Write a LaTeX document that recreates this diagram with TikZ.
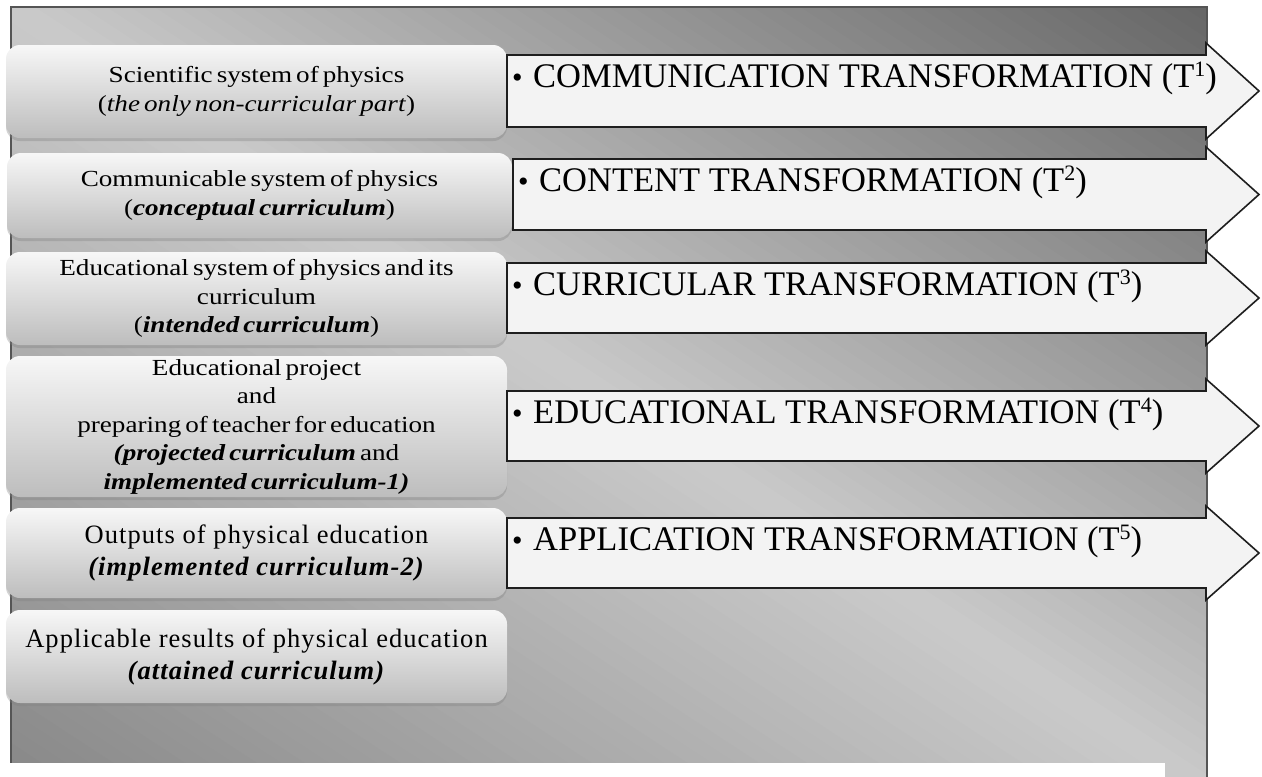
\documentclass[tikz,border=0pt]{standalone}
\usepackage{fontspec}
\setmainfont{Liberation Serif}
\newfontfamily\boxfont[FakeStretch=1.18,WordSpace=0.6]{Liberation Serif}
\newfontfamily\lowfont[LetterSpace=4]{Liberation Serif}
\usetikzlibrary{shadows}

\definecolor{panelDark}{HTML}{666666}
\definecolor{panelLight}{HTML}{CACACA}
\definecolor{panelLow}{HTML}{878787}
\definecolor{panelEdge}{HTML}{555555}
\definecolor{boxTop}{HTML}{F7F7F7}
\definecolor{boxMid}{HTML}{E4E4E4}
\definecolor{boxBot}{HTML}{BDBDBD}
\definecolor{arrowFill}{HTML}{F3F3F3}
\definecolor{arrowEdge}{HTML}{1E1E1E}

\newcommand\emphcur[1]{\textbf{\textit{#1}}}
\newcommand\supnum[1]{\raisebox{0.31em}{\fontsize{22}{22}\selectfont #1}}

\begin{document}
\begin{tikzpicture}[x=1pt,y=-1pt,
  levelbox/.style={rounded corners=14pt, top color=boxTop, middle color=boxMid,
    bottom color=boxBot, inner sep=0pt, align=center, text=black,
    drop shadow={shadow xshift=0pt, shadow yshift=-3pt, opacity=0.35}},
  smalltext/.style={font=\boxfont\fontsize{23}{28.5}\selectfont},
  largetext/.style={font=\lowfont\fontsize{26.5}{32}\selectfont},
  arrowshape/.style={draw=arrowEdge, line width=1.6pt, fill=arrowFill, line join=miter},
  arrowtext/.style={font=\fontsize{34.5}{36}\selectfont, inner sep=0pt, anchor=base west}
]
\useasboundingbox (0,0) rectangle (1262,777);
\clip (0,0) rectangle (1262,777);

% background panel: grey gradient across the diagonal, built from thin strips
\begin{scope}
  \clip (11,7) rectangle (1207,790);
  \foreach \k in {0,...,99} {
    \pgfmathsetmacro\ta{\k/100}
    \pgfmathsetmacro\tb{(\k+1.4)/100}
    \pgfmathsetmacro\tm{(\k+0.5)/100}
    \ifdim\tm pt<0.5pt
      \pgfmathsetmacro\pc{200*\tm}
      \colorlet{stripcol}{panelLight!\pc!panelDark}
    \else
      \pgfmathsetmacro\pc{200*\tm-100}
      \colorlet{stripcol}{panelLow!\pc!panelLight}
    \fi
    \fill[stripcol]
      ({11+1196*(1-\ta)-1.2*1196},{7+783*\ta-1.2*783}) --
      ({11+1196*(1-\ta)+1.2*1196},{7+783*\ta+1.2*783}) --
      ({11+1196*(1-\tb)+1.2*1196},{7+783*\tb+1.2*783}) --
      ({11+1196*(1-\tb)-1.2*1196},{7+783*\tb-1.2*783}) -- cycle;
  }
\end{scope}
\draw[panelEdge, line width=1.2pt] (11,790) -- (11,7) -- (1207,7) -- (1207,790);
\fill[white] (0,763) rectangle (1165,790);

% curriculum levels
\node[levelbox, smalltext, minimum width=501pt, minimum height=93pt] (lvl1) at (256.5,91.5)
  {Scientific system of physics\\(\textit{the only non-curricular part})};
\node[levelbox, smalltext, minimum width=505pt, minimum height=85pt] (lvl2) at (259.5,195.5)
  {Communicable system of physics\\(\emphcur{conceptual curriculum})};
\node[levelbox, smalltext, minimum width=501pt, minimum height=93pt] (lvl3) at (256.5,298.5)
  {Educational system of physics and its\\curriculum\\(\emphcur{intended curriculum})};
\node[levelbox, smalltext, minimum width=501pt, minimum height=141pt] (lvl4) at (256.5,426.5)
  {Educational project\\and\\preparing of teacher for education\\\emphcur{(projected curriculum} and\\\emphcur{implemented curriculum-1)}};
\node[levelbox, largetext, minimum width=501pt, minimum height=90pt] (lvl5) at (256.5,553)
  {Outputs of physical education\\\emphcur{(implemented curriculum-2)}};
\node[levelbox, largetext, minimum width=501pt, minimum height=93pt] (lvl6) at (256.5,656.5)
  {Applicable results of physical education\\\emphcur{(attained curriculum)}};

% transformation arrows
\foreach \i/\xl/\yt/\yb/\lab in {
  1/507/55/127/{COMMUNICATION TRANSFORMATION (T\supnum{1})},
  2/513/159/230/{CONTENT TRANSFORMATION (T\supnum{2})},
  3/507/263/333/{CURRICULAR TRANSFORMATION (T\supnum{3})},
  4/507/391/461/{EDUCATIONAL TRANSFORMATION (T\supnum{4})},
  5/507/518/588/{APPLICATION TRANSFORMATION (T\supnum{5})}} {
  \draw[arrowshape] (\xl,\yt) -- (1206,\yt) -- (1206,\yt-12)
    -- (1259,{(\yt+\yb)/2}) -- (1206,\yb+12) -- (1206,\yb) -- (\xl,\yb) -- cycle;
  \node[arrowtext] (tr\i) at (\xl+5,\yt+32)
    {\makebox[21pt][l]{\fontsize{30}{30}\selectfont\textbullet}\lab};
}
\end{tikzpicture}
\end{document}
